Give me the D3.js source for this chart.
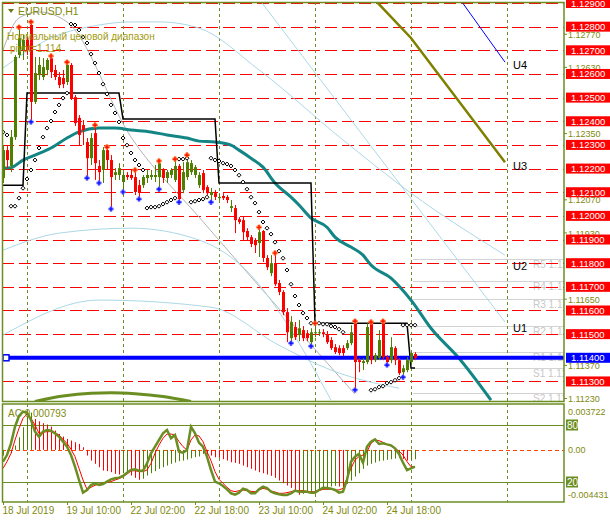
<!DOCTYPE html>
<html><head><meta charset="utf-8">
<script src="https://cdn.jsdelivr.net/npm/d3@7"></script>
<style>
body{margin:0;background:#fff}
svg{display:block}
text{font-family:"Liberation Sans",Arial,sans-serif}
</style></head>
<body><svg id="c" width="610" height="523"></svg>
<script>
// ---------------- DATA ----------------
const timeLabels = ["18 Jul 2019","19 Jul 10:00","22 Jul 02:00","22 Jul 18:00","23 Jul 10:00","24 Jul 02:00","24 Jul 18:00"];
const timeLabelBars = [0,16,32,48,64,80,96];
const daySeparatorBars = [6,30,54,78,102,126];

const open = [1.12160,1.12278,1.12211,1.12333,1.12680,1.12701,1.12744,1.12807,1.12482,1.12595,
 1.12587,1.12617,1.12667,1.12617,1.12587,1.12583,1.12566,1.12638,1.12502,1.12414,
 1.12384,1.12312,1.12244,1.12350,1.12211,1.12194,1.12278,1.12236,1.12173,1.12173,
 1.12143,1.12173,1.12173,1.12164,1.12130,1.12130,1.12160,1.12164,1.12164,1.12164,
 1.12194,1.12160,1.12173,1.12152,1.12211,1.12109,1.12164,1.12185,1.12173,1.12130,
 1.12181,1.12122,1.12088,1.12096,1.12075,1.12084,1.12080,1.12033,1.12033,1.11986,
 1.11982,1.11936,1.11910,1.11898,1.11885,1.11936,1.11822,1.11758,1.11800,1.11716,
 1.11678,1.11593,1.11483,1.11530,1.11496,1.11517,1.11504,1.11466,1.11504,1.11504,
 1.11508,1.11496,1.11475,1.11445,1.11441,1.11441,1.11441,1.11462,1.11551,1.11390,
 1.11378,1.11382,1.11546,1.11390,1.11399,1.11551,1.11403,1.11390,1.11441,1.11390,
 1.11339,1.11348,1.11382,1.11416];
const high = [1.12299,1.12295,1.12363,1.12680,1.12798,1.12765,1.12760,1.12820,1.12672,1.12672,
 1.12667,1.12667,1.12676,1.12638,1.12608,1.12617,1.12650,1.12646,1.12511,1.12426,
 1.12405,1.12329,1.12350,1.12384,1.12236,1.12291,1.12291,1.12257,1.12202,1.12223,
 1.12185,1.12185,1.12194,1.12194,1.12152,1.12173,1.12194,1.12194,1.12215,1.12232,
 1.12202,1.12194,1.12202,1.12240,1.12219,1.12227,1.12257,1.12236,1.12215,1.12185,
 1.12194,1.12130,1.12118,1.12109,1.12096,1.12096,1.12088,1.12067,1.12046,1.11995,
 1.11995,1.11948,1.11919,1.11906,1.11952,1.11940,1.11834,1.11834,1.11843,1.11729,
 1.11686,1.11610,1.11576,1.11551,1.11560,1.11534,1.11517,1.11525,1.11546,1.11521,
 1.11521,1.11513,1.11487,1.11458,1.11453,1.11453,1.11475,1.11538,1.11555,1.11399,
 1.11399,1.11546,1.11551,1.11420,1.11517,1.11555,1.11411,1.11487,1.11449,1.11399,
 1.11369,1.11403,1.11424,1.11424];
const low = [1.12139,1.12202,1.12185,1.12321,1.12667,1.12659,1.12680,1.12397,1.12473,1.12574,
 1.12574,1.12595,1.12583,1.12574,1.12540,1.12540,1.12553,1.12490,1.12380,1.12299,
 1.12299,1.12160,1.12215,1.12152,1.12139,1.12139,1.12194,1.12029,1.12152,1.12152,
 1.12101,1.12152,1.12152,1.12088,1.12071,1.12118,1.12139,1.12152,1.12143,1.12113,
 1.12139,1.12139,1.12160,1.12143,1.12058,1.12096,1.12152,1.12173,1.12160,1.12118,
 1.12096,1.12088,1.12058,1.12067,1.12067,1.12067,1.12054,1.12016,1.11927,1.11965,
 1.11898,1.11898,1.11868,1.11843,1.11826,1.11805,1.11771,1.11745,1.11703,1.11665,
 1.11580,1.11466,1.11462,1.11475,1.11470,1.11470,1.11470,1.11449,1.11487,1.11492,
 1.11487,1.11458,1.11433,1.11416,1.11411,1.11407,1.11433,1.11453,1.11264,1.11339,
 1.11348,1.11373,1.11373,1.11382,1.11390,1.11390,1.11369,1.11377,1.11369,1.11327,
 1.11318,1.11339,1.11369,1.11390];
const close = [1.12278,1.12236,1.12333,1.12672,1.12752,1.12744,1.12701,1.12482,1.12604,1.12638,
 1.12629,1.12659,1.12608,1.12587,1.12553,1.12557,1.12638,1.12498,1.12392,1.12342,
 1.12363,1.12244,1.12329,1.12223,1.12185,1.12278,1.12236,1.12164,1.12185,1.12202,
 1.12173,1.12164,1.12160,1.12101,1.12101,1.12164,1.12173,1.12173,1.12173,1.12223,
 1.12160,1.12185,1.12194,1.12211,1.12071,1.12185,1.12227,1.12223,1.12206,1.12173,
 1.12109,1.12096,1.12101,1.12080,1.12080,1.12075,1.12067,1.12041,1.11982,1.11974,
 1.11931,1.11910,1.11881,1.11876,1.11931,1.11822,1.11783,1.11800,1.11711,1.11678,
 1.11593,1.11508,1.11551,1.11487,1.11525,1.11483,1.11483,1.11508,1.11508,1.11508,
 1.11500,1.11466,1.11441,1.11424,1.11420,1.11420,1.11462,1.11508,1.11382,1.11382,
 1.11386,1.11530,1.11390,1.11411,1.11475,1.11403,1.11382,1.11445,1.11390,1.11335,
 1.11356,1.11390,1.11420,1.11399];

const sar = [1.12354,1.12342,1.12041,1.12041,1.12075,1.12117,1.12156,1.12194,1.12236,1.12287,
 1.12333,1.12371,1.12401,1.12439,1.12469,1.12498,1.12519,1.12811,1.12807,1.12786,
 1.12756,1.12731,1.12684,1.12646,1.12604,1.12557,1.12515,1.12469,1.12435,1.12397,
 1.12329,1.12299,1.12266,1.12236,1.12215,1.12194,1.12033,1.12037,1.12037,1.12041,
 1.12050,1.12058,1.12067,1.12075,1.12240,1.12240,1.12244,1.12058,1.12062,1.12067,
 1.12071,1.12079,1.12244,1.12236,1.12232,1.12223,1.12219,1.12211,1.12194,1.12172,
 1.12143,1.12113,1.12079,1.12054,1.12016,1.11974,1.11948,1.11923,1.11889,1.11851,
 1.11821,1.11771,1.11711,1.11661,1.11623,1.11589,1.11568,1.11546,1.11546,1.11546,
 1.11542,1.11542,1.11534,1.11530,1.11521,1.11508,null,null,null,null,
 null,null,1.11263,1.11267,1.11276,1.11280,1.11293,1.11297,1.11305,1.11314,
 1.11538,1.11538,1.11538,1.11538];

const upFractalBars = [4,7,12,16,23,26,33,39,43,46,64,68,78,88,92,95];
const downFractalBars = [7,21,24,27,30,34,39,44,52,72,77,88,96,100];

const maBars = [0,2,5,8,12,16,19,24,28,32,37,41,46,49,53,57,59,62,65,68,72,74,77,81,83,87,90,92,97,102,107,114,122];
const maVals = [1.12202,1.12204,1.12236,1.12257,1.12287,1.12329,1.12355,1.12371,1.12371,1.12363,1.12355,1.12342,1.12329,1.12316,1.12312,1.12299,1.12278,1.12244,1.12206,1.12139,1.12079,1.12046,1.11991,1.11952,1.11910,1.11868,1.11834,1.11792,1.11737,1.11644,1.11525,1.11398,1.11221];

const rangeBars = [0,5,6,29,30,53,54,77,78,101,102,103];
const rangeVals = [1.12130,1.12130,1.12519,1.12519,1.12410,1.12410,1.12139,1.12139,1.11546,1.11546,1.11357,1.11357];

const grayBars = [0,4,9,16,32,49,88];
const grayVals = [1.12701,1.12837,1.12862,1.12820,1.12333,1.11995,1.11246];
const u2Bars = [0,12,24,32,39,49,64,85,102,125.5];
const u2Vals = [1.12625,1.12752,1.12807,1.12820,1.12820,1.12794,1.12617,1.12321,1.12096,1.11834];
const u1Bars = [64.75,125.5];
const u1Vals = [1.12900,1.11551];
const blueMidBars = [0,14,32,49,62,72,82];
const blueMidVals = [1.11855,1.11927,1.11948,1.11898,1.11749,1.11517,1.11221];
const blueLowBars = [0,24,52,69,82,99];
const blueLowVals = [1.11496,1.11644,1.11614,1.11453,1.11348,1.11271];

const arcBars = [8,15,22,27,33,40,47];
const arcVals = [1.11215,1.11238,1.11250,1.11252,1.11248,1.11236,1.11215];
const u3Bars = [93.5,102,125.5];
const u3Vals = [1.12904,1.12752,1.12227];
const u4Bars = [114.75,125.5];
const u4Vals = [1.12904,1.12650];
const uLabels = ["U4","U3","U2","U1"];
const uLabelVals = [1.12620,1.12196,1.11773,1.11510];

const redLevels = [1.129,1.128,1.127,1.126,1.125,1.124,1.123,1.122,1.121,1.120,1.119,1.118,1.117,1.116,1.115,1.113];
const pivotLevel = 1.114;
const pivotNames = ["R5","R4","R3","R2","R1","S1","S2"];
const pivotVals = [1.11817,1.11724,1.11648,1.11534,1.11424,1.11356,1.11250];
const priceTicks = [1.12770,1.12630,1.12350,1.12070,1.11930,1.11650,1.11370,1.11230];

const acVals = [-0.00056,-0.00049,-0.00033,0.00043,0.00124,0.00222,0.00327,0.00366,0.00304,0.00281,
 0.00262,0.00249,0.00229,0.00190,0.00157,0.00131,0.00108,0.00092,0.00075,0.00059,
 0.00026,-0.00056,-0.00105,-0.00137,-0.00170,-0.00203,-0.00209,-0.00219,-0.00235,-0.00242,
 -0.00229,-0.00219,-0.00252,-0.00275,-0.00294,-0.00284,-0.00252,-0.00229,-0.00209,-0.00186,
 -0.00170,-0.00154,-0.00137,-0.00124,-0.00111,-0.00105,-0.00095,-0.00082,-0.00072,-0.00065,
 -0.00039,-0.00046,-0.00056,-0.00072,-0.00078,-0.00092,-0.00105,-0.00121,-0.00128,-0.00137,
 -0.00154,-0.00170,-0.00186,-0.00203,-0.00219,-0.00229,-0.00242,-0.00255,-0.00275,-0.00301,
 -0.00327,-0.00350,-0.00373,-0.00399,-0.00441,-0.00432,-0.00422,-0.00412,-0.00399,-0.00386,
 -0.00376,-0.00366,-0.00360,-0.00353,-0.00360,-0.00366,-0.00334,-0.00301,-0.00262,-0.00229,
 -0.00186,-0.00154,-0.00137,-0.00124,-0.00111,-0.00105,-0.00098,-0.00092,-0.00085,-0.00078,
 -0.00088,-0.00105,-0.00098,-0.00092];
const stochMain = [41.4,48.4,60.7,78.2,89.5,94.0,93.0,85.3,73.0,67.7,
 73.0,74.7,74.0,71.2,67.7,62.5,57.2,48.4,36.1,22.1,
 8.8,11.6,16.8,18.6,16.8,17.9,20.4,22.8,23.9,24.6,
 26.3,29.8,32.6,33.3,31.9,31.9,39.6,50.2,57.2,64.2,
 71.2,74.7,66.0,69.5,51.9,50.9,53.7,78.2,71.2,61.4,
 57.2,46.7,32.6,20.4,18.6,15.8,12.3,8.1,6.7,8.8,
 13.0,11.6,8.1,8.1,12.3,15.1,13.7,9.8,8.1,7.0,
 6.3,6.3,8.1,10.9,9.8,9.8,9.8,8.8,8.8,11.6,
 14.0,13.7,13.0,11.6,8.8,9.8,22.1,41.4,46.7,49.5,
 40.3,57.2,62.5,64.9,60.0,60.7,59.6,58.6,55.4,49.5,
 40.3,32.6,34.4,36.1];
const stochSignal = [34.4,41.4,50.2,64.2,76.5,87.0,91.6,87.0,80.0,71.2,
 72.3,73.0,73.0,71.9,69.5,64.9,60.7,54.4,46.7,34.4,
 22.1,12.3,14.4,16.5,17.9,18.6,19.6,20.4,22.1,23.5,
 25.6,28.4,31.6,31.9,30.9,30.9,32.6,39.6,50.2,58.9,
 66.0,70.5,70.5,69.5,62.5,57.2,53.7,64.2,69.5,68.5,
 62.5,51.9,42.5,30.9,22.8,18.6,14.4,10.9,9.8,10.9,
 11.6,10.9,10.2,9.8,11.6,13.3,12.3,10.5,9.5,8.1,
 8.1,8.8,9.8,10.9,10.9,10.9,10.2,9.8,9.8,10.9,
 12.3,12.3,12.3,11.6,11.6,13.3,23.9,34.4,43.2,46.7,
 48.4,51.9,60.7,64.2,63.5,61.8,59.6,57.9,55.4,52.6,
 48.4,41.4,36.1,36.1];
const stochLevels = [80,20];
const acMax = 0.003722, acMin = -0.004431;

// ---------------- SCALES ----------------
const svg = d3.select("#c");
const x = d3.scaleLinear().domain([0,140]).range([3,563]);
const y = d3.scaleLinear().domain([1.11230,1.12900]).range([398,3]);
const ys = d3.scaleLinear().domain([0,100]).range([501,406]);
const ya = d3.scaleLinear().domain([acMin,acMax]).range([495,412]);

const OLIVE = "#6b8e23", OLTEXT = "#7f8a10", GREEN = "#4f7f00", RED = "#ff0000", LB = "#add8e6";

svg.append("rect").attr("width",610).attr("height",523).attr("fill","#fff");
const defs = svg.append("defs");
defs.append("clipPath").attr("id","mainClip").append("rect").attr("x",2).attr("y",2).attr("width",562).attr("height",399);
defs.append("clipPath").attr("id","subClip").append("rect").attr("x",2).attr("y",404).attr("width",562).attr("height",98);

const main = svg.append("g").attr("clip-path","url(#mainClip)");
const sub = svg.append("g").attr("clip-path","url(#subClip)");
const bars = d3.range(open.length);

// pivot gray lines
main.selectAll(".pv").data(pivotVals).join("line")
  .attr("x1",x(102.5)).attr("x2",564).attr("y1",d=>Math.round(y(d))+0.5).attr("y2",d=>Math.round(y(d))+0.5)
  .attr("stroke","#d3d3d3").attr("stroke-width",1);
main.selectAll(".pvt").data(pivotVals).join("text")
  .attr("x",533).attr("y",d=>y(d)+9).text((d,i)=>pivotNames[i]+" "+d.toFixed(2))
  .attr("font-size",10).attr("fill","#c8c8c8");

// red dashed levels
main.selectAll(".rl").data(redLevels).join("line")
  .attr("x1",2).attr("x2",564).attr("y1",d=>Math.round(y(d))+0.5).attr("y2",d=>Math.round(y(d))+0.5)
  .attr("stroke",RED).attr("stroke-width",1).attr("stroke-dasharray","12,5");

// separators
[main,sub].forEach(g=>g.selectAll(".sep").data(daySeparatorBars).join("line")
  .attr("x1",d=>Math.round(x(d))+0.5).attr("x2",d=>Math.round(x(d))+0.5).attr("y1",2).attr("y2",502)
  .attr("stroke",OLIVE).attr("stroke-width",1).attr("stroke-dasharray","3,3"));

const lineGen = (bs,vs,sc)=>d3.line().curve(d3.curveMonotoneX)(bs.map((b,i)=>[x(b),sc(vs[i])]));

// channel lines
main.append("path").attr("d",lineGen(grayBars,grayVals,y)).attr("fill","none").attr("stroke","#b4b4b4").attr("stroke-width",1);
[[u2Bars,u2Vals],[u1Bars,u1Vals],[blueMidBars,blueMidVals],[blueLowBars,blueLowVals]].forEach(([b,v])=>{
  main.append("path").attr("d",lineGen(b,v,y)).attr("fill","none").attr("stroke",LB).attr("stroke-width",1);
});
// olive arc, U3, U4
main.append("path").attr("d",lineGen(arcBars,arcVals,y)).attr("fill","none").attr("stroke",OLIVE).attr("stroke-width",3);
main.append("path").attr("d",d3.line()(u3Bars.map((b,i)=>[x(b),y(u3Vals[i])]))).attr("fill","none").attr("stroke","#808000").attr("stroke-width",2.5);
main.append("path").attr("d",d3.line()(u4Bars.map((b,i)=>[x(b),y(u4Vals[i])]))).attr("fill","none").attr("stroke","#0000ff").attr("stroke-width",1);
main.selectAll(".ul").data(uLabels).join("text").attr("x",513).attr("y",(d,i)=>y(uLabelVals[i])).text(d=>d)
  .attr("font-size",11).attr("fill","#000");

// MA
main.append("path").attr("d",lineGen(maBars,maVals,y)).attr("fill","none").attr("stroke","#138585").attr("stroke-width",3);

// range step line
main.append("path").attr("d",d3.line()(rangeBars.map((b,i)=>[x(b),y(rangeVals[i])]))).attr("fill","none").attr("stroke","#000").attr("stroke-width",1.5);

// pivot blue line
main.append("line").attr("x1",2).attr("x2",564).attr("y1",y(pivotLevel)).attr("y2",y(pivotLevel)).attr("stroke","#0000ff").attr("stroke-width",4);
main.append("rect").attr("x",3).attr("y",y(pivotLevel)-3).attr("width",6).attr("height",6).attr("fill","#fff").attr("stroke","#0000ff").attr("stroke-width",1.5);

// candles
const cg = main.append("g");
bars.forEach(i=>{
  const c = close[i]>=open[i]?GREEN:RED;
  const cx = Math.round(x(i))+0.5;
  cg.append("line").attr("x1",cx).attr("x2",cx).attr("y1",y(high[i])).attr("y2",y(low[i])).attr("stroke",c).attr("stroke-width",1);
  const top = y(Math.max(open[i],close[i])), bot = y(Math.min(open[i],close[i]));
  cg.append("rect").attr("x",cx-1.5).attr("y",top).attr("width",3).attr("height",Math.max(1,bot-top)).attr("fill",c);
});

// SAR diamonds
main.selectAll(".sar").data(bars.filter(i=>sar[i]!==null)).join("path")
  .attr("transform",i=>`translate(${x(i)},${y(sar[i])})`)
  .attr("d","M0,-2L2,0L0,2L-2,0Z").attr("fill","#fff").attr("stroke","#000").attr("stroke-width",1);

// fractals
const plus = "M-2.5,0H2.5M0,-2.5V2.5";
main.selectAll(".fu").data(upFractalBars).join("g").attr("transform",i=>`translate(${x(i)},${y(high[i])})`)
  .call(g=>{g.append("path").attr("d",plus).attr("stroke","#ffa040").attr("stroke-width",3);
            g.append("path").attr("d",plus).attr("stroke","#ff0000").attr("stroke-width",1.2);});
main.selectAll(".fd").data(downFractalBars).join("g").attr("transform",i=>`translate(${x(i)},${y(low[i])})`)
  .call(g=>{g.append("path").attr("d",plus).attr("stroke","#9aa0ff").attr("stroke-width",3);
            g.append("path").attr("d",plus).attr("stroke","#0000ff").attr("stroke-width",1.2);});

// texts top-left
svg.append("path").attr("d","M8,9L14,9L11,13Z").attr("fill","#6b7a10");
svg.append("text").attr("x",18).attr("y",15).text("EURUSD,H1").attr("font-size",10.5).attr("fill",OLTEXT);
svg.append("text").attr("x",7).attr("y",40).text("Нормальный ценовой диапазон").attr("font-size",10).attr("fill","#a39b10");
svg.append("text").attr("x",10).attr("y",52).text("pivot=1.114").attr("font-size",10).attr("fill","#a39b10");

// ---------------- SUBPANEL ----------------
sub.selectAll(".sl").data(stochLevels).join("line").attr("x1",2).attr("x2",564)
  .attr("y1",d=>Math.round(ys(d))+0.5).attr("y2",d=>Math.round(ys(d))+0.5).attr("stroke",OLIVE).attr("stroke-width",1.2);
sub.append("line").attr("x1",2).attr("x2",564).attr("y1",Math.round(ya(0))+0.5).attr("y2",Math.round(ya(0))+0.5)
  .attr("stroke","#ff4500").attr("stroke-width",1).attr("stroke-dasharray","4,3");
sub.selectAll(".ac").data(bars).join("line")
  .attr("x1",i=>Math.round(x(i))+0.5).attr("x2",i=>Math.round(x(i))+0.5)
  .attr("y1",ya(0)).attr("y2",i=>ya(acVals[i]))
  .attr("stroke",i=>(i>0&&acVals[i]<acVals[i-1])?RED:GREEN).attr("stroke-width",1);
sub.append("path").attr("d",d3.line()(bars.map(i=>[x(i),ys(stochSignal[i])])))
  .attr("fill","none").attr("stroke",RED).attr("stroke-width",1);
sub.append("path").attr("d",d3.line()(bars.map(i=>[x(i),ys(stochMain[i])])))
  .attr("fill","none").attr("stroke",OLIVE).attr("stroke-width",2.5);
svg.append("text").attr("x",8).attr("y",417).text("AC 0.000793").attr("font-size",10).attr("fill",OLTEXT);

// ---------------- FRAMES ----------------
svg.append("rect").attr("x",2.5).attr("y",2.5).attr("width",561.5).attr("height",399).attr("fill","none").attr("stroke",OLIVE).attr("stroke-width",1.5);
svg.append("rect").attr("x",2.5).attr("y",404).attr("width",561.5).attr("height",98).attr("fill","none").attr("stroke",OLIVE).attr("stroke-width",1.5);

// ---------------- AXES ----------------
const pAxis = d3.axisRight(y).tickValues(priceTicks).tickFormat(d3.format(".5f")).tickSize(3);
const pa = svg.append("g").attr("transform","translate(564,0)").call(pAxis);
pa.select(".domain").remove();
pa.selectAll("line").attr("stroke",OLIVE);
pa.selectAll("text").attr("fill",OLTEXT).attr("font-size",9).attr("font-family","Liberation Sans, Arial").attr("x",4).attr("dy","0.4em");

// red level boxes
const rb = svg.selectAll(".rb").data(redLevels).join("g").attr("transform",d=>`translate(566,${y(d)})`);
rb.append("rect").attr("x",0).attr("y",-5).attr("width",44).attr("height",10).attr("fill",RED);
rb.append("text").attr("x",5).attr("y",3.5).text(d=>d.toFixed(5)).attr("font-size",9.5).attr("fill","#fff");
// pivot box
const pb = svg.append("g").attr("transform",`translate(566,${y(pivotLevel)})`);
pb.append("rect").attr("x",0).attr("y",-5).attr("width",44).attr("height",10).attr("fill","#0000ff");
pb.append("text").attr("x",5).attr("y",3.5).text(pivotLevel.toFixed(5)).attr("font-size",9.5).attr("fill","#fff");

// sub axis labels
const acAxis = d3.axisRight(ya).tickValues([acMax,0,acMin]).tickFormat(d=>d===0?"0.00":d.toFixed(6)).tickSize(0);
const aa = svg.append("g").attr("transform","translate(564,0)").call(acAxis);
aa.select(".domain").remove();
aa.selectAll("text").attr("fill",OLTEXT).attr("font-size",9).attr("font-family","Liberation Sans, Arial").attr("x",4);
const sb = svg.selectAll(".sb").data(stochLevels).join("g").attr("transform",d=>`translate(566,${ys(d)})`);
sb.append("rect").attr("x",0).attr("y",-5.5).attr("width",12).attr("height",11).attr("fill",OLIVE);
sb.append("text").attr("x",1).attr("y",4).text(d=>d).attr("font-size",10).attr("fill","#fff");

// time axis
const tAxis = d3.axisBottom(x).tickValues(timeLabelBars).tickFormat((d,i)=>timeLabels[i]).tickSize(3);
const ta = svg.append("g").attr("transform","translate(0,502)").call(tAxis);
ta.select(".domain").remove();
ta.selectAll("line").attr("stroke",OLIVE);
ta.selectAll("text").attr("fill",OLTEXT).attr("font-size",10).attr("font-family","Liberation Sans, Arial")
  .attr("text-anchor","start").attr("dx",-1).attr("y",5);
</script></body></html>
